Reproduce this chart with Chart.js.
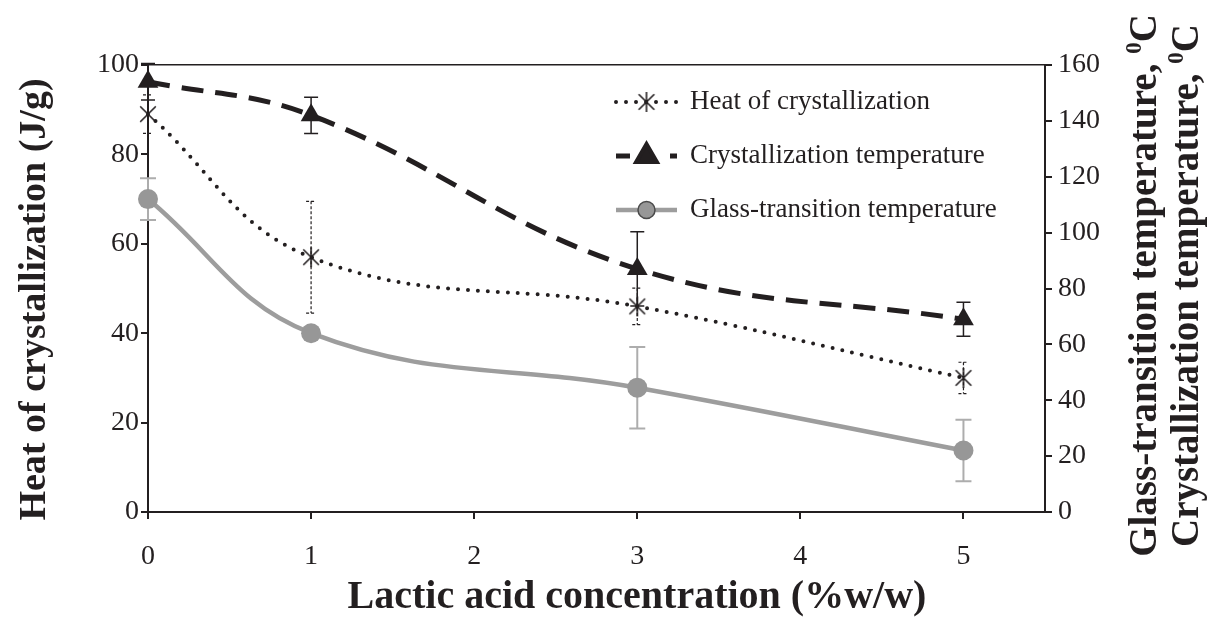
<!DOCTYPE html>
<html>
<head>
<meta charset="utf-8">
<script src="https://cdn.jsdelivr.net/npm/chart.js@4.4.1/dist/chart.umd.min.js"></script>
<style>
  html, body { margin: 0; padding: 0; background: #fff; }
  #wrap { width: 1216px; height: 622px; }
</style>
</head>
<body>
<div id="wrap"><canvas id="chart"></canvas></div>
<script>
// lactic acid concentration (% w/w)
const concentration = [0, 1, 3, 5];

// heat of crystallization, J/g (left axis)
const heatOfCryst = [89, 57, 46, 30];
const heatOfCrystErr = [4.3, 12.5, 4.1, 3.5];

// crystallization temperature, °C (right axis)
const crystTemp = [154, 142, 87, 69];
const crystTempErr = [6.5, 6.5, 13.3, 6.1];

// glass-transition temperature, °C (right axis)
const glassTemp = [112, 64, 44.5, 22];
const glassTempErr = [7.5, 1, 14.6, 11];

const xTicks = [0, 1, 2, 3, 4, 5];
const leftTicks = [0, 20, 40, 60, 80, 100];
const rightTicks = [0, 20, 40, 60, 80, 100, 120, 140, 160];

const xTitle = 'Lactic acid concentration (%w/w)';
const leftTitle = 'Heat of crystallization (J/g)';
const rightTitleLines = ['Glass-transition temperature, ', 'Crystallization temperature, '];

const INK = '#231f20';
const GREY = '#9d9d9d';
const SERIF = '"Liberation Serif", "Times New Roman", serif';

Chart.defaults.font.family = SERIF;
Chart.defaults.color = INK;

// asterisk marker: an X crossed by a vertical stroke
function asterisk(size) {
  const c = document.createElement('canvas');
  c.width = c.height = size + 4;
  const g = c.getContext('2d');
  const m = c.width / 2, r = size / 2, d = r * 0.78;
  g.strokeStyle = INK;
  g.lineWidth = 1.6;
  g.beginPath();
  g.moveTo(m - d, m - d); g.lineTo(m + d, m + d);
  g.moveTo(m + d, m - d); g.lineTo(m - d, m + d);
  g.moveTo(m, m - r); g.lineTo(m, m + r);
  g.stroke();
  return c;
}
const starMark = asterisk(20);

const toPoints = ys => concentration.map((x, i) => ({ x, y: ys[i] }));

// vertical error bars with caps, drawn underneath the series
const errorBars = {
  id: 'errorBars',
  beforeDatasetsDraw(chart) {
    const ctx = chart.ctx;
    const xs = chart.scales.x;
    chart.data.datasets.forEach(ds => {
      if (!ds.errors) return;
      const ys = chart.scales[ds.yAxisID];
      ctx.save();
      ctx.strokeStyle = ds.errorColor;
      ctx.lineWidth = ds.errorWidth;
      ctx.setLineDash(ds.errorDash || []);
      ds.data.forEach((p, j) => {
        const e = ds.errors[j];
        const x = xs.getPixelForValue(p.x);
        const top = ys.getPixelForValue(p.y + e);
        const bot = ys.getPixelForValue(p.y - e);
        const w = ds.errorCap;
        ctx.beginPath();
        ctx.moveTo(x, top); ctx.lineTo(x, bot);
        ctx.moveTo(x - w, top); ctx.lineTo(x + w, top);
        ctx.moveTo(x - w, bot); ctx.lineTo(x + w, bot);
        ctx.stroke();
      });
      ctx.restore();
    });
  }
};

function drawMarker(ctx, ds, x, y) {
  const style = ds.pointStyle;
  if (style instanceof HTMLCanvasElement) {
    ctx.drawImage(style, x - style.width / 2, y - style.height / 2);
    return;
  }
  const r = ds.pointRadius;
  ctx.save();
  ctx.fillStyle = ds.pointBackgroundColor;
  ctx.strokeStyle = ds.legendMarkerBorder || ds.pointBorderColor;
  ctx.lineWidth = ds.legendMarkerBorder ? 1.5 : 0;
  ctx.beginPath();
  if (style === 'triangle') {
    ctx.moveTo(x, y - r);
    ctx.lineTo(x + r * 0.866, y + r * 0.5);
    ctx.lineTo(x - r * 0.866, y + r * 0.5);
    ctx.closePath();
  } else {
    ctx.arc(x, y, r * 0.85, 0, Math.PI * 2);
  }
  ctx.fill();
  if (ctx.lineWidth) ctx.stroke();
  ctx.restore();
}

// legend in the upper right of the plot: line sample, marker, label
const plotLegend = {
  id: 'plotLegend',
  afterDatasetsDraw(chart) {
    const { ctx, chartArea } = chart;
    const x0 = chartArea.left + 468, len = 61;
    chart.data.datasets.forEach((ds, i) => {
      const y = chartArea.top + 37 + i * 54;
      ctx.save();
      ctx.strokeStyle = ds.borderColor;
      ctx.lineWidth = ds.borderWidth;
      ctx.lineCap = ds.borderCapStyle || 'butt';
      ctx.setLineDash(ds.legendDash || ds.borderDash || []);
      ctx.beginPath();
      ctx.moveTo(x0, y); ctx.lineTo(x0 + len, y);
      ctx.stroke();
      ctx.restore();
      drawMarker(ctx, ds, x0 + len / 2, y);
      ctx.save();
      ctx.fillStyle = INK;
      ctx.font = '27px ' + SERIF;
      ctx.textBaseline = 'middle';
      ctx.fillText(ds.label, x0 + len + 13, y);
      ctx.restore();
    });
  }
};

// axis titles: bottom, left (rotated) and the two-line right title
// with a superscript 0 before C
const axisTitles = {
  id: 'axisTitles',
  afterDraw(chart) {
    const { ctx, chartArea } = chart;
    const midY = (chartArea.top + chartArea.bottom) / 2;
    ctx.save();
    ctx.fillStyle = INK;
    ctx.textBaseline = 'middle';
    ctx.textAlign = 'center';

    ctx.font = 'bold 40px ' + SERIF;
    ctx.fillText(xTitle, chartArea.left + 489, chart.height - 24);

    ctx.save();
    ctx.translate(35, midY + 11);
    ctx.rotate(-Math.PI / 2);
    ctx.font = 'bold 38px ' + SERIF;
    ctx.fillText(leftTitle, 0, 0);
    ctx.restore();

    ctx.textAlign = 'left';
    const big = 'bold 39px ' + SERIF, small = 'bold 23px ' + SERIF;
    rightTitleLines.forEach((txt, i) => {
      const cx = chartArea.right + 101 + i * 42;
      ctx.save();
      ctx.translate(cx, midY - 3);
      ctx.rotate(-Math.PI / 2);
      ctx.font = big;
      const w1 = ctx.measureText(txt).width, w3 = ctx.measureText('C').width;
      ctx.font = small;
      const w2 = ctx.measureText('0').width;
      let x = -(w1 + w2 + w3) / 2;
      ctx.font = big;
      ctx.fillText(txt, x, 0);
      x += w1;
      ctx.font = small;
      ctx.fillText('0', x, -11);
      x += w2;
      ctx.font = big;
      ctx.fillText('C', x, 0);
      ctx.restore();
    });
    ctx.restore();
  }
};

const setTicks = values => scale => { scale.ticks = values.map(v => ({ value: v })); };

new Chart(document.getElementById('chart'), {
  type: 'line',
  data: {
    datasets: [
      {
        label: 'Heat of crystallization',
        data: toPoints(heatOfCryst),
        yAxisID: 'y',
        borderColor: INK,
        borderWidth: 4,
        borderDash: [0, 10],
        borderCapStyle: 'round',
        pointStyle: starMark,
        pointRadius: 10,
        errors: heatOfCrystErr,
        errorColor: INK,
        errorWidth: 1.2,
        errorDash: [3, 2],
        errorCap: 5
      },
      {
        label: 'Crystallization temperature',
        data: toPoints(crystTemp),
        yAxisID: 'y1',
        borderColor: INK,
        borderWidth: 5,
        borderDash: [22, 12],
        legendDash: [14, 40],
        pointStyle: 'triangle',
        pointRadius: 12,
        pointBackgroundColor: INK,
        pointBorderColor: INK,
        pointBorderWidth: 0,
        errors: crystTempErr,
        errorColor: INK,
        errorWidth: 1.5,
        errorCap: 7
      },
      {
        label: 'Glass-transition temperature',
        data: toPoints(glassTemp),
        yAxisID: 'y1',
        borderColor: GREY,
        borderWidth: 4.5,
        pointStyle: 'circle',
        pointRadius: 10,
        pointBackgroundColor: '#979797',
        pointBorderColor: '#979797',
        pointBorderWidth: 0,
        legendMarkerBorder: '#4a4a4a',
        errors: glassTempErr,
        errorColor: '#adadad',
        errorWidth: 2,
        errorCap: 8
      }
    ]
  },
  options: {
    responsive: true,
    maintainAspectRatio: false,
    animation: false,
    clip: false,
    tension: 0.4,
    layout: { padding: { top: 65, left: 0, right: 0, bottom: 0 } },
    plugins: {
      legend: { display: false },
      tooltip: { enabled: false }
    },
    scales: {
      x: {
        type: 'linear',
        min: 0,
        max: 5.5,
        afterBuildTicks: setTicks(xTicks),
        afterFit: s => { s.height = 110; },
        border: { display: true, color: INK, width: 2 },
        grid: { drawOnChartArea: false, color: INK, lineWidth: 2, tickLength: 7 },
        ticks: { font: { size: 28 }, padding: 21, color: INK }
      },
      xTop: {
        type: 'linear',
        position: 'top',
        min: 0,
        max: 5.5,
        afterFit: s => { s.height = 0; },
        border: { display: true, color: INK, width: 1.5 },
        grid: { display: false },
        ticks: { display: false }
      },
      y: {
        position: 'left',
        min: 0,
        max: 100,
        afterBuildTicks: setTicks(leftTicks),
        afterFit: s => { s.width = 148; },
        border: { display: true, color: INK, width: 2 },
        grid: { drawOnChartArea: false, color: INK, lineWidth: 2, tickLength: 7 },
        ticks: { font: { size: 28 }, padding: 2, color: INK }
      },
      y1: {
        position: 'right',
        min: 0,
        max: 160,
        afterBuildTicks: setTicks(rightTicks),
        afterFit: s => { s.width = 171; },
        border: { display: true, color: INK, width: 2 },
        grid: { drawOnChartArea: false, color: INK, lineWidth: 2, tickLength: 7 },
        ticks: { font: { size: 28 }, padding: 6, color: INK }
      }
    }
  },
  plugins: [errorBars, plotLegend, axisTitles]
});
</script>
</body>
</html>
